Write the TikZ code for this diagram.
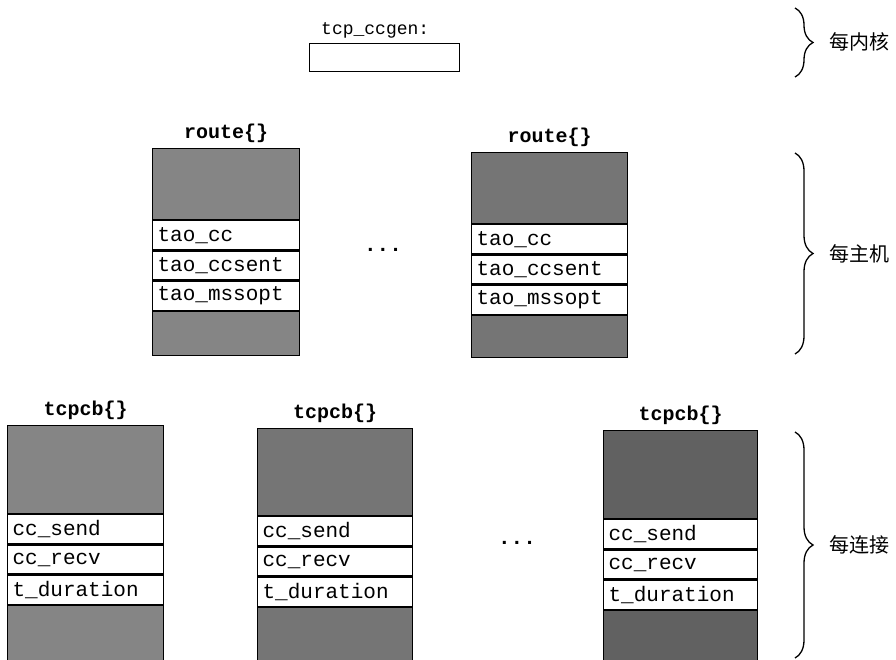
\documentclass[tikz,border=0pt]{standalone}
\usepackage{fontspec}
\setmonofont{Liberation Mono}
\newfontfamily\cjk{Noto Sans CJK SC}
\usetikzlibrary{decorations.pathreplacing}
\definecolor{shadeA}{gray}{0.52}
\definecolor{shadeB}{gray}{0.46}
\definecolor{shadeC}{gray}{0.38}
\tikzset{
  shaded/.style={draw, line width=1.2pt, fill=#1, inner sep=0pt, anchor=north west},
  rowbox/.style={draw, line width=1.2pt, fill=white, inner ysep=0pt, inner xsep=5pt,
    anchor=north west, minimum height=29pt, align=left,
    font=\ttfamily\fontsize{21}{23}\selectfont},
  title/.style={font=\ttfamily\bfseries\fontsize{20}{22}\selectfont, inner sep=0pt, anchor=south},
  brc/.style={decorate, decoration={brace, amplitude=18pt}, line width=1.3pt},
  side/.style={anchor=west, font=\cjk\fontsize{20}{24}\selectfont, inner sep=0pt},
  dots/.style={font=\ttfamily\bfseries\fontsize{21}{22}\selectfont, inner sep=0pt},
}
% #1 name, #2 x, #3 y, #4 width, #5 top height, #6 shade, #7 title
\newcommand\structtop[7]{%
  \node[shaded=#6, minimum width=#4pt, minimum height=#5pt] (#1top) at (#2,#3) {};
  \node[title] (#1title) at ([yshift=5pt]#1top.north) {#7};
}
% #1 name, #2 width, #3-#5 rows, #6 bottom height, #7 shade
\newcommand\structrows[7]{%
  \node[rowbox, text width=#2pt-10pt] (#1a) at (#1top.south west) {#3};
  \node[rowbox, text width=#2pt-10pt] (#1b) at (#1a.south west) {#4};
  \node[rowbox, text width=#2pt-10pt] (#1c) at (#1b.south west) {#5};
  \node[shaded=#7, minimum width=#2pt, minimum height=#6pt] (#1bot) at (#1c.south west) {};
}
\begin{document}
\begin{tikzpicture}[x=1pt, y=-1pt]
\useasboundingbox (0,0) rectangle (896,660);

% per kernel
\node[font=\ttfamily\fontsize{18}{20}\selectfont, inner sep=0pt, anchor=west] (gentitle) at (321,30) {tcp\_ccgen:};
\node[draw, line width=1.2pt, fill=white, minimum width=150pt, minimum height=28pt, anchor=north west, inner sep=0pt] (genbox) at (309,43) {};

% per host
\structtop{ra}{152}{148}{147}{71}{shadeA}{route\{\}}
\structrows{ra}{147}{tao\_cc}{tao\_ccsent}{tao\_mssopt}{44}{shadeA}
\structtop{rb}{471}{152}{156}{71}{shadeB}{route\{\}}
\structrows{rb}{156}{tao\_cc}{tao\_ccsent}{tao\_mssopt}{42}{shadeB}
\node[dots] (hdots) at (383,250) {...};

% per connection
\structtop{ta}{7}{425}{156}{88}{shadeA}{tcpcb\{\}}
\structrows{ta}{156}{cc\_send}{cc\_recv}{t\_duration}{57}{shadeA}
\structtop{tb}{257}{428}{155}{87}{shadeB}{tcpcb\{\}}
\structrows{tb}{155}{cc\_send}{cc\_recv}{t\_duration}{56}{shadeB}
\structtop{tc}{603}{430}{154}{88}{shadeC}{tcpcb\{\}}
\structrows{tc}{154}{cc\_send}{cc\_recv}{t\_duration}{56}{shadeC}
\node[dots] (cdots) at (517,543) {...};

% braces
\coordinate (b1s) at (795,8);  \coordinate (b1e) at (795,77);
\coordinate (b2s) at (795,153); \coordinate (b2e) at (795,354);
\coordinate (b3s) at (795,432); \coordinate (b3e) at (795,658);
\draw[brc] (b1s) -- (b1e);
\draw[brc] (b2s) -- (b2e);
\draw[brc] (b3s) -- (b3e);
\node[side] (l1) at (829,42) {每内核};
\node[side] (l2) at (829,254) {每主机};
\node[side] (l3) at (829,545) {每连接};
\end{tikzpicture}
\end{document}
